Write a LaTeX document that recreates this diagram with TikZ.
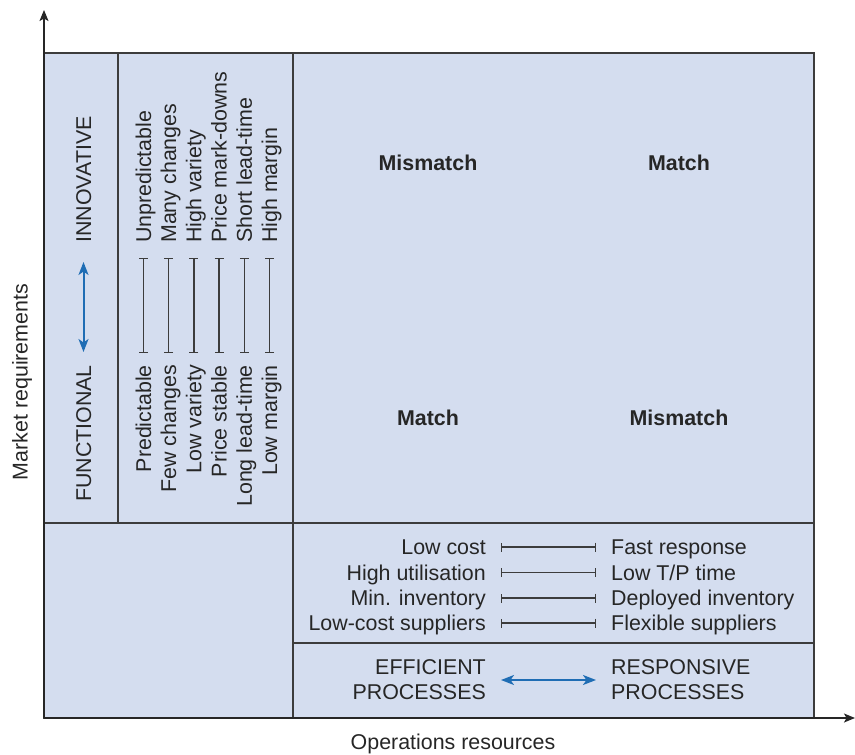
\documentclass[tikz,border=0pt]{standalone}
\usepackage{fontspec}
\setmainfont{Liberation Sans}
\usetikzlibrary{arrows.meta}
\definecolor{cellfill}{HTML}{D4DDEF}
\definecolor{rulecol}{HTML}{3C3C3C}
\definecolor{arrowblue}{HTML}{1F6DB4}
\begin{document}
\begin{tikzpicture}[x=1pt,y=-1pt,
  txt/.style={inner sep=0pt,font=\fontsize{21.4}{25}\selectfont,text=black!85},
  bold/.style={txt,font=\fontsize{21.4}{25}\selectfont\bfseries},
  rule/.style={draw=rulecol,line width=1.6pt},
  thin/.style={draw=rulecol,line width=1.3pt},
  barline/.style={draw=rulecol,line width=1.4pt,{Bar[width=9pt,line width=1.4pt]}-{Bar[width=9pt,line width=1.4pt]}},
  bluearrow/.style={draw=arrowblue,line width=2pt,{Stealth[length=13pt,width=10pt,inset=3.5pt]}-{Stealth[length=13pt,width=10pt,inset=3.5pt]}},
  axis/.style={draw=black!85,line width=1.4pt,-{Stealth[length=11pt,width=9pt,inset=2.5pt]}}]
\useasboundingbox (0,0) rectangle (855,755);
% grid
\coordinate (tl) at (44,53);
\coordinate (br) at (814,718);
\fill[cellfill] (tl) rectangle (br);
\draw[rule] (tl) rectangle (br);
\draw[thin] (118,53) -- (118,523);
\draw[rule] (293,53) -- (293,718);
\draw[rule] (44,523) -- (814,523);
\draw[rule] (293,643) -- (814,643);
% axes
\coordinate (origin) at (44,718);
\coordinate (ytip) at (44,10);
\coordinate (xtip) at (855,718);
\draw[axis] (origin) -- (ytip);
\draw[axis] (origin) -- (xtip);
\node[txt,anchor=base] (xlab) at (453,749) {Operations resources};
\node[txt,anchor=base,rotate=90] (ylab) at (27.5,382) {Market requirements};
% quadrants
\node[bold,anchor=base] (q1) at (428,170.5) {Mismatch};
\node[bold,anchor=base] (q2) at (679,170.5) {Match};
\node[bold,anchor=base] (q3) at (428,425.5) {Match};
\node[bold,anchor=base] (q4) at (679,425.5) {Mismatch};
% functional / innovative
\node[txt,rotate=90,anchor=base east] (fun) at (91,365) {FUNCTIONAL};
\node[txt,rotate=90,anchor=base west] (inn) at (91,243) {INNOVATIVE};
\draw[bluearrow] ([shift={(-7.5pt,-19pt)}]inn.base west) -- ([shift={(-7.5pt,13pt)}]fun.base east);
% market items
\foreach \i/\lo/\hi [count=\k from 0] in {
  1/Predictable/Unpredictable,
  2/Few changes/Many changes,
  3/Low variety/High variety,
  4/Price stable/Price mark-downs,
  5/Long lead-time/Short lead-time,
  6/Low margin/High margin}{
  \pgfmathsetmacro{\bx}{143.5+25.2*\k+7.5}
  \node[txt,rotate=90,anchor=base east] (lo\i) at (\bx,365) {\lo};
  \node[txt,rotate=90,anchor=base west] (hi\i) at (\bx,243) {\hi};
  \draw[barline] ([shift={(-7.5pt,12pt)}]lo\i.base east) -- ([shift={(-7.5pt,-15pt)}]hi\i.base west);
}
% operations items
\foreach \i/\l/\r/\yb in {
  1/Low cost/Fast response/554.5,
  2/High utilisation/{Low T/P time}/580,
  3/Min. inventory/Deployed inventory/605.5,
  4/Low-cost suppliers/Flexible suppliers/630.5}{
  \node[txt,anchor=base east] (ol\i) at (486,\yb) {\l};
  \node[txt,anchor=base west] (or\i) at (611,\yb) {\r};
  \draw[barline] ([shift={(15pt,7.5pt)}]ol\i.base east) -- ([shift={(-15pt,7.5pt)}]or\i.base west);
}
% processes
\node[txt,anchor=east,align=right] (eff) at (486,680) {EFFICIENT\\PROCESSES};
\node[txt,anchor=west,align=left] (resp) at (611,680) {RESPONSIVE\\PROCESSES};
\draw[bluearrow] ([xshift=15pt]eff.east) -- ([xshift=-15pt]resp.west);
\end{tikzpicture}
\end{document}
